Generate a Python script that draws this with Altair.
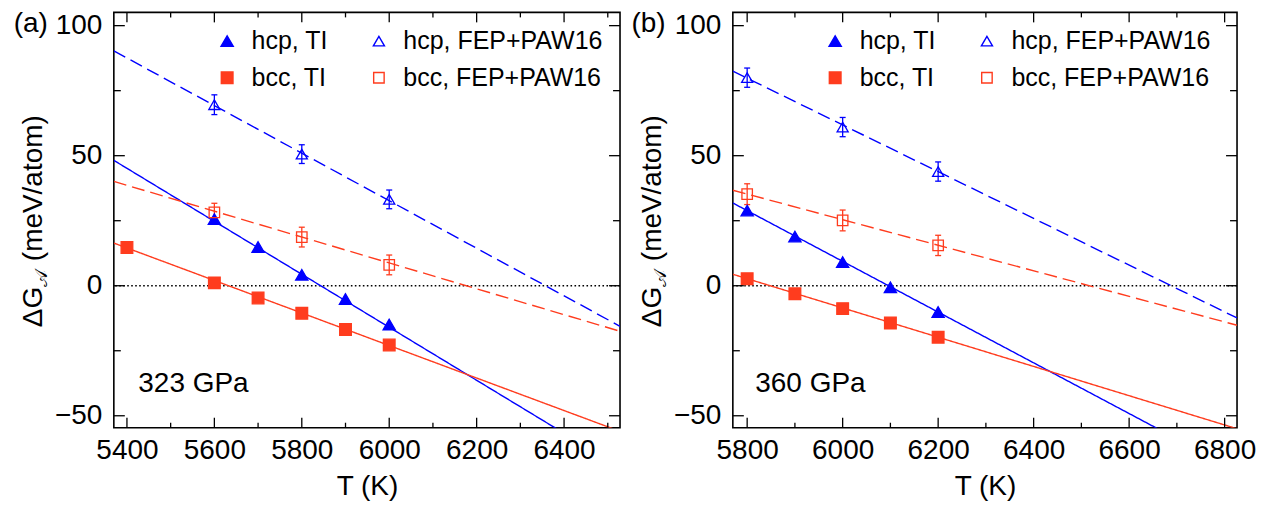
import altair as alt
import pandas as pd

SERIES = ["hcp, TI", "bcc, TI", "hcp, FEP+PAW16", "bcc, FEP+PAW16"]
BLUE = "#0000ff"
RED = "#ff3c1e"
COLOR_OF = {"hcp, TI": BLUE, "hcp, FEP+PAW16": BLUE, "bcc, TI": RED, "bcc, FEP+PAW16": RED}

# ---------------- panel (a): 323 GPa ----------------
a_hcp_ti_T = [5600, 5700, 5800, 5900, 6000]
a_hcp_ti_G = [25.6, 14.9, 4.2, -5.1, -14.9]
a_bcc_ti_T = [5400, 5600, 5700, 5800, 5900, 6000]
a_bcc_ti_G = [14.7, 1.1, -4.7, -10.6, -16.8, -22.8]
a_hcp_fep_T = [5600, 5800, 6000]
a_hcp_fep_G = [69.6, 50.6, 33.2]
a_hcp_fep_err = [3.8, 3.6, 3.6]
a_bcc_fep_T = [5600, 5800, 6000]
a_bcc_fep_G = [28.2, 18.7, 8.0]
a_bcc_fep_err = [3.5, 3.8, 3.8]
# fitted lines (end points)
a_hcp_ti_line_T = [5370, 6383]
a_hcp_ti_line_G = [48.2, -55.0]
a_bcc_ti_line_T = [5370, 6528]
a_bcc_ti_line_G = [16.4, -56.0]
a_hcp_fep_line_T = [5370, 6528]
a_hcp_fep_line_G = [90.3, -15.6]
a_bcc_fep_line_T = [5370, 6528]
a_bcc_fep_line_G = [40.1, -17.5]
a_x_domain = [5370, 6528]
a_x_major = [5400, 5600, 5800, 6000, 6200, 6400]
a_x_minor = [5500, 5700, 5900, 6100, 6300, 6500]

# ---------------- panel (b): 360 GPa ----------------
b_hcp_ti_T = [5800, 5900, 6000, 6100, 6200]
b_hcp_ti_G = [28.9, 18.9, 9.1, -0.6, -10.1]
b_bcc_ti_T = [5800, 5900, 6000, 6100, 6200]
b_bcc_ti_G = [2.7, -3.1, -8.8, -14.3, -19.8]
b_hcp_fep_T = [5800, 6000, 6200]
b_hcp_fep_G = [80.0, 61.0, 43.9]
b_hcp_fep_err = [3.7, 3.7, 3.7]
b_bcc_fep_T = [5800, 6000, 6200]
b_bcc_fep_G = [35.2, 25.1, 15.5]
b_bcc_fep_err = [4.0, 4.0, 3.9]
b_hcp_ti_line_T = [5770, 6660]
b_hcp_ti_line_G = [31.8, -55.0]
b_bcc_ti_line_T = [5770, 6826]
b_bcc_ti_line_G = [4.4, -55.0]
b_hcp_fep_line_T = [5770, 6826]
b_hcp_fep_line_G = [82.5, -12.4]
b_bcc_fep_line_T = [5770, 6826]
b_bcc_fep_line_G = [36.7, -15.2]
b_x_domain = [5770, 6826]
b_x_major = [5800, 6000, 6200, 6400, 6600, 6800]
b_x_minor = [5900, 6100, 6300, 6500, 6700]

y_domain = [-54.6, 105.1]
y_major = [-50, 0, 50, 100]
y_minor = [-25, 25, 75]

Y_TITLE_MAIN = "ΔG"
Y_TITLE_SUB = "𝒜"
Y_TITLE_UNIT = "(meV/atom)"

FONT = "Liberation Sans"
H = 416


def label_layer(text, x, y, size, align="left", baseline="alphabetic", angle=0):
    return alt.Chart(pd.DataFrame({"label": [text]})).mark_text(
        align=align, baseline=baseline, font=FONT, fontSize=size, color="black",
        angle=angle).encode(x=x, y=y, text="label:N")


def panel(pts, errs, lines, xdom, xmaj, xmin, W, tag, tag_dx, pressure, p_T, legX):
    xs = alt.Scale(domain=xdom, nice=False, zero=False)
    ys = alt.Scale(domain=y_domain, nice=False, zero=False)
    xaxis = alt.Axis(values=xmaj, title="T (K)", format="d", labelPadding=9,
                     titlePadding=8, labelFlush=False, labelOverlap=False,
                     domain=False, ticks=False, grid=False)
    yaxis = alt.Axis(values=y_major, title=None, labelPadding=12,
                     labelOverlap=False, domain=False, ticks=False, grid=False)
    X = alt.X("T:Q", scale=xs, axis=xaxis)
    Y = alt.Y("G:Q", scale=ys, axis=yaxis)

    layers = []
    # zero dotted line
    layers.append(alt.Chart(pd.DataFrame({"G": [0]})).mark_rule(
        color="black", strokeWidth=1.6, strokeDash=[1.6, 2.4]).encode(y=Y))
    # fitted lines
    for name, (lt, lg) in lines.items():
        dash = [1, 0] if "TI" in name else [13, 6]
        layers.append(alt.Chart(pd.DataFrame({"T": lt, "G": lg})).mark_line(
            color=COLOR_OF[name], strokeWidth=1.4, strokeDash=dash, clip=True).encode(x=X, y=Y))
    # error bars
    for name, (et, eg, ee) in errs.items():
        df = pd.DataFrame({"T": et, "lo": [g - e for g, e in zip(eg, ee)],
                           "hi": [g + e for g, e in zip(eg, ee)]})
        layers.append(alt.Chart(df).mark_rule(color=COLOR_OF[name], strokeWidth=1.3).encode(
            x=X, y=alt.Y("lo:Q", scale=ys, axis=yaxis), y2="hi:Q"))
        for col in ["lo", "hi"]:
            layers.append(alt.Chart(df).mark_tick(
                color=COLOR_OF[name], orient="horizontal", size=6, thickness=1.3, opacity=1).encode(
                x=X, y=alt.Y(f"{col}:Q", scale=ys, axis=yaxis)))
    # points with legend
    rows = []
    for name, (pt, pg) in pts.items():
        for t, g in zip(pt, pg):
            rows.append({"T": t, "G": g, "series": name})
    leg = alt.Legend(title=None, orient="none", legendX=legX, legendY=16, columns=2,
                     labelFont=FONT, labelFontSize=25, labelColor="black", labelLimit=0,
                     rowPadding=11, columnPadding=38, labelOffset=12,
                     symbolStrokeWidth=1.4, padding=0, symbolOpacity=1)
    layers.append(alt.Chart(pd.DataFrame(rows)).mark_point(opacity=1, strokeWidth=1.3).encode(
        x=X, y=Y,
        shape=alt.Shape("series:N", scale=alt.Scale(domain=SERIES,
                        range=["triangle-up", "square", "triangle-up", "square"]), legend=leg),
        fill=alt.Fill("series:N", scale=alt.Scale(domain=SERIES,
                      range=[BLUE, RED, "transparent", "transparent"]), legend=leg),
        stroke=alt.Stroke("series:N", scale=alt.Scale(domain=SERIES,
                          range=[COLOR_OF[s] for s in SERIES]), legend=leg),
        size=alt.Size("series:N", scale=alt.Scale(domain=SERIES, range=[150, 110, 100, 80]),
                      legend=leg),
    ))
    # inward ticks
    for vals, ln in [(xmaj, 10), (xmin, 5)]:
        d = pd.DataFrame({"T": vals})
        layers.append(alt.Chart(d).mark_rule(color="black", strokeWidth=1.3).encode(
            x=X, y=alt.value(H), y2=alt.value(H - ln)))
        layers.append(alt.Chart(d).mark_rule(color="black", strokeWidth=1.3).encode(
            x=X, y=alt.value(0), y2=alt.value(ln)))
    for vals, ln in [(y_major, 11), (y_minor, 7)]:
        d = pd.DataFrame({"G": vals})
        layers.append(alt.Chart(d).mark_rule(color="black", strokeWidth=1.3).encode(
            y=Y, x=alt.value(0), x2=alt.value(ln)))
        layers.append(alt.Chart(d).mark_rule(color="black", strokeWidth=1.3).encode(
            y=Y, x=alt.value(W), x2=alt.value(W - ln)))
    # annotations
    layers.append(label_layer(pressure, alt.datum(p_T), alt.datum(-40.7), 28))
    layers.append(label_layer(tag, alt.value(tag_dx), alt.value(12), 28, baseline="middle"))
    # y-axis title with subscript, rotated
    layers.append(label_layer(Y_TITLE_MAIN, alt.value(-72.3), alt.value(315.3), 28, angle=270))
    layers.append(label_layer(Y_TITLE_SUB, alt.value(-66.5), alt.value(274.8), 18, angle=270))
    layers.append(label_layer(Y_TITLE_UNIT, alt.value(-72.3), alt.value(103), 28,
                              align="right", angle=270))
    return alt.layer(*layers).properties(width=W, height=H)


pa = panel(
    {"hcp, TI": (a_hcp_ti_T, a_hcp_ti_G), "hcp, FEP+PAW16": (a_hcp_fep_T, a_hcp_fep_G),
     "bcc, TI": (a_bcc_ti_T, a_bcc_ti_G), "bcc, FEP+PAW16": (a_bcc_fep_T, a_bcc_fep_G)},
    {"hcp, FEP+PAW16": (a_hcp_fep_T, a_hcp_fep_G, a_hcp_fep_err),
     "bcc, FEP+PAW16": (a_bcc_fep_T, a_bcc_fep_G, a_bcc_fep_err)},
    {"hcp, TI": (a_hcp_ti_line_T, a_hcp_ti_line_G), "bcc, TI": (a_bcc_ti_line_T, a_bcc_ti_line_G),
     "hcp, FEP+PAW16": (a_hcp_fep_line_T, a_hcp_fep_line_G),
     "bcc, FEP+PAW16": (a_bcc_fep_line_T, a_bcc_fep_line_G)},
    a_x_domain, a_x_major, a_x_minor, 507, "(a)", -100.3, "323 GPa", 5426, 101)

pb = panel(
    {"hcp, TI": (b_hcp_ti_T, b_hcp_ti_G), "hcp, FEP+PAW16": (b_hcp_fep_T, b_hcp_fep_G),
     "bcc, TI": (b_bcc_ti_T, b_bcc_ti_G), "bcc, FEP+PAW16": (b_bcc_fep_T, b_bcc_fep_G)},
    {"hcp, FEP+PAW16": (b_hcp_fep_T, b_hcp_fep_G, b_hcp_fep_err),
     "bcc, FEP+PAW16": (b_bcc_fep_T, b_bcc_fep_G, b_bcc_fep_err)},
    {"hcp, TI": (b_hcp_ti_line_T, b_hcp_ti_line_G), "bcc, TI": (b_bcc_ti_line_T, b_bcc_ti_line_G),
     "hcp, FEP+PAW16": (b_hcp_fep_line_T, b_hcp_fep_line_G),
     "bcc, FEP+PAW16": (b_bcc_fep_line_T, b_bcc_fep_line_G)},
    b_x_domain, b_x_major, b_x_minor, 505, "(b)", -101.6, "360 GPa", 5817, 90)

chart = alt.hconcat(pa, pb, spacing=8).resolve_scale(
    shape="independent", fill="independent", stroke="independent", size="independent"
).properties(
    padding={"left": 4, "top": 1, "right": 0, "bottom": 0}, background="white"
).configure_view(
    stroke="black", strokeWidth=1.6
).configure_axis(
    domain=False, ticks=False, grid=False, labelFont=FONT, titleFont=FONT,
    labelFontSize=28, titleFontSize=28, titleFontWeight="normal",
    labelColor="black", titleColor="black"
)

chart.save("out.html", embed_options={"renderer": "svg", "actions": False})
